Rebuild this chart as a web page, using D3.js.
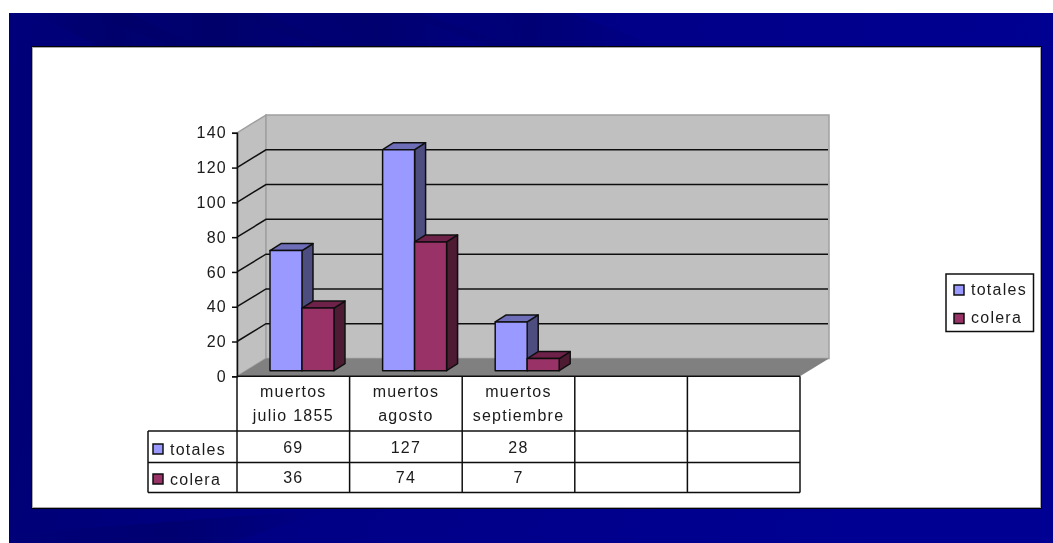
<!DOCTYPE html>
<html><head><meta charset="utf-8">
<style>html,body{margin:0;padding:0;background:#fff;overflow:hidden}
svg{display:block}
text{font-family:"Liberation Sans",Arial,sans-serif;font-size:16px;letter-spacing:1.25px;fill:#1a1a1a}
</style>
<script src="https://cdn.jsdelivr.net/npm/d3@7"></script></head><body>
<svg id="c" width="1053" height="543"></svg>
<script>
const categories=[["muertos","julio 1855"],["muertos","agosto"],["muertos","septiembre"],["",""],["",""]];
const seriesNames=["totales","colera"];
const totales=[69,127,28];
const colera=[36,74,7];
const yTicks=[0,20,40,60,80,100,120,140];
const faceColors=["#9999ff","#993366"];
const sideColors=["#4d4d80","#4d1a33"];
const topColors=["#6d6db8","#6e2148"];

const svg=d3.select("#c");
const defs=svg.append("defs");
const g=defs.append("linearGradient").attr("id","bg").attr("x1",0).attr("y1",0).attr("x2",1).attr("y2",0.25);
[[0,"#00007a"],[0.2,"#000076"],[0.5,"#000086"],[0.8,"#00008e"],[1,"#000092"]].forEach(s=>g.append("stop").attr("offset",s[0]).attr("stop-color",s[1]));
const st=defs.append("linearGradient").attr("id","streak").attr("x1",0).attr("y1",0).attr("x2",1).attr("y2",0);
st.append("stop").attr("offset","0").attr("stop-color","#000050").attr("stop-opacity",0);
st.append("stop").attr("offset","0.5").attr("stop-color","#000050").attr("stop-opacity",.3);
st.append("stop").attr("offset","1").attr("stop-color","#000050").attr("stop-opacity",0);
defs.append("filter").attr("id","soft").append("feGaussianBlur").attr("stdDeviation",0.4);

svg.append("rect").attr("x",9).attr("y",13).attr("width",1044).attr("height",530).attr("fill","url(#bg)");
const ln=d3.line();
[[[30,13],[130,13],[200,47],[100,47]],[[90,13],[260,13],[340,47],[170,47]],[[230,13],[420,13],[520,47],[320,47]],[[400,13],[570,13],[660,47],[490,47]]]
 .forEach(p=>svg.append("path").attr("d",ln(p)+"Z").attr("fill","url(#streak)"));
svg.append("path").attr("d",ln([[9,543],[9,534],[140,524],[330,509],[230,543]])+"Z").attr("fill","url(#streak)");
svg.append("rect").attr("x",31).attr("y",46).attr("width",1011).attr("height",463).attr("fill","#050505");
svg.append("rect").attr("x",32).attr("y",47).attr("width",1009).attr("height",461).attr("fill","#a8a8a8");
svg.append("rect").attr("x",33).attr("y",48).attr("width",1007).attr("height",459).attr("fill","#fff");

const chart=svg.append("g").attr("filter","url(#soft)");
const x0=237,x1=800,depthX=29,depthY=17.8;
const y=d3.scaleLinear().domain([0,140]).range([376.3,132.8]);
const x=d3.scaleBand().domain(d3.range(categories.length)).range([x0,x1]);
const inner=d3.scaleBand().domain(seriesNames).range([33,97]);
const path=d=>d3.line()(d)+"Z";
const ink="#111", sw=1.5;

chart.append("path").attr("d",path([[x0,y(0)],[x0+depthX,y(0)-depthY],[x0+depthX,y(140)-depthY],[x0,y(140)]])).attr("fill","#c0c0c0").attr("stroke","#a0a0a0").attr("stroke-width",1.5);
chart.append("path").attr("d",path([[x0+depthX,y(0)-depthY],[x1+depthX,y(0)-depthY],[x1+depthX,y(140)-depthY],[x0+depthX,y(140)-depthY]])).attr("fill","#c0c0c0").attr("stroke","#a0a0a0").attr("stroke-width",1.5);
chart.append("path").attr("d",path([[x0,y(0)],[x0+depthX,y(0)-depthY],[x1+depthX,y(0)-depthY],[x1,y(0)]])).attr("fill","#808080");

chart.selectAll(".grid").data(yTicks.filter(t=>t>0&&t<140)).join("path")
 .attr("fill","none").attr("stroke",ink).attr("stroke-width",sw)
 .attr("d",t=>d3.line()([[x0,y(t)],[x0+depthX,y(t)-depthY],[x1+depthX-1,y(t)-depthY]]));

const yAxis=d3.axisLeft(y).tickValues(yTicks).tickSize(5).tickPadding(5);
const ya=chart.append("g").attr("transform",`translate(${x0},0)`).call(yAxis);
ya.selectAll("path.domain").attr("stroke",ink).attr("stroke-width",sw);
ya.selectAll("line").attr("stroke",ink).attr("stroke-width",sw);
ya.selectAll("text").style("font-family",'"Liberation Sans"').style("font-size","16px").attr("fill","#1a1a1a");

const baseY=370.7;
const vScale=d3.scaleLinear().domain([0,140]).range([baseY,baseY-243.7]);
const bd=11,bdy=7;
[totales,colera].forEach((vals,si)=>{
 const s=seriesNames[si];
 vals.forEach((v,i)=>{
  const l=x(i)+inner(s),r=l+inner.bandwidth(),t=vScale(v),b=vScale(0);
  const gb=chart.append("g").attr("stroke",ink).attr("stroke-width",sw).attr("stroke-linejoin","round");
  gb.append("path").attr("d",path([[r,b],[r+bd,b-bdy],[r+bd,t-bdy],[r,t]])).attr("fill",sideColors[si]);
  gb.append("path").attr("d",path([[l,t],[l+bd,t-bdy],[r+bd,t-bdy],[r,t]])).attr("fill",topColors[si]);
  gb.append("rect").attr("x",l).attr("y",t).attr("width",r-l).attr("height",b-t).attr("fill",faceColors[si]);
 });
});

// data table
const rowY=[376.3,431,462.5,492.5];
const tbl=chart.append("g").attr("stroke",ink).attr("stroke-width",sw).attr("fill","none");
const colEdges=x.domain().map(d=>x(d)).concat(x1);
colEdges.forEach(c=>tbl.append("line").attr("x1",c).attr("x2",c).attr("y1",rowY[0]).attr("y2",rowY[3]));
tbl.append("line").attr("x1",x0).attr("x2",x1).attr("y1",rowY[0]).attr("y2",rowY[0]);
rowY.slice(1).forEach(r=>tbl.append("line").attr("x1",148).attr("x2",x1).attr("y1",r).attr("y2",r));
tbl.append("line").attr("x1",148).attr("x2",148).attr("y1",rowY[1]).attr("y2",rowY[3]);

categories.forEach((c,i)=>{
 chart.append("text").attr("x",x(i)+x.bandwidth()/2).attr("y",397).attr("text-anchor","middle").text(c[0]);
 chart.append("text").attr("x",x(i)+x.bandwidth()/2).attr("y",421).attr("text-anchor","middle").text(c[1]);
});
[totales,colera].forEach((vals,si)=>{
 const base=[453,483][si];
 vals.forEach((v,i)=>chart.append("text").attr("x",x(i)+x.bandwidth()/2).attr("y",base).attr("text-anchor","middle").text(v));
 chart.append("rect").attr("x",153).attr("y",[444,474][si]).attr("width",10).attr("height",10).attr("fill",faceColors[si]).attr("stroke",ink).attr("stroke-width",sw);
 chart.append("text").attr("x",170).attr("y",[455,484.5][si]).text(seriesNames[si]);
});

// legend
chart.append("rect").attr("x",946).attr("y",274).attr("width",87.5).attr("height",57.5).attr("fill","#fff").attr("stroke",ink).attr("stroke-width",sw);
seriesNames.forEach((n,i)=>{
 chart.append("rect").attr("x",954).attr("y",[285,313.5][i]).attr("width",10).attr("height",10).attr("fill",faceColors[i]).attr("stroke",ink).attr("stroke-width",sw);
 chart.append("text").attr("x",971).attr("y",[294.5,322.5][i]).text(n);
});
</script></body></html>
